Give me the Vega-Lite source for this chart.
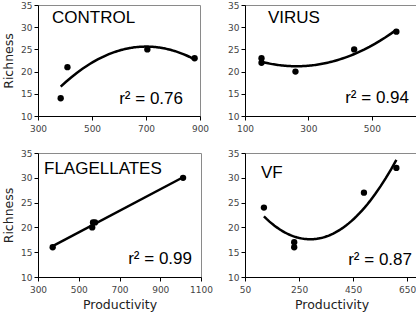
{
  "$schema": "https://vega.github.io/schema/vega-lite/v6.json",
  "padding": {"left": 2, "top": 0, "right": 2, "bottom": 2},
  "bounds": "flush",
  "columns": 2,
  "spacing": {"row": 37, "column": 44},
  "datasets": {
    "obs": [
      {"treatment": "CONTROL", "Productivity": 384, "Richness": 14},
      {"treatment": "CONTROL", "Productivity": 409, "Richness": 21},
      {"treatment": "CONTROL", "Productivity": 705, "Richness": 25},
      {"treatment": "CONTROL", "Productivity": 880, "Richness": 23},
      {"treatment": "VIRUS", "Productivity": 152, "Richness": 23},
      {"treatment": "VIRUS", "Productivity": 152, "Richness": 22},
      {"treatment": "VIRUS", "Productivity": 259, "Richness": 20},
      {"treatment": "VIRUS", "Productivity": 444, "Richness": 25},
      {"treatment": "VIRUS", "Productivity": 577, "Richness": 29},
      {"treatment": "FLAGELLATES", "Productivity": 372, "Richness": 16},
      {"treatment": "FLAGELLATES", "Productivity": 566, "Richness": 20},
      {"treatment": "FLAGELLATES", "Productivity": 570, "Richness": 21},
      {"treatment": "FLAGELLATES", "Productivity": 580, "Richness": 21},
      {"treatment": "FLAGELLATES", "Productivity": 1012, "Richness": 30},
      {"treatment": "VF", "Productivity": 120, "Richness": 24},
      {"treatment": "VF", "Productivity": 232, "Richness": 17},
      {"treatment": "VF", "Productivity": 232, "Richness": 16},
      {"treatment": "VF", "Productivity": 490, "Richness": 27},
      {"treatment": "VF", "Productivity": 610, "Richness": 32}
    ]
  },
  "concat": [
    {
      "width": 162, "height": 111,
      "encoding": {
        "x": {"field": "Productivity", "type": "quantitative", "scale": {"domain": [300, 900], "nice": false, "zero": false}, "axis": {"values": [300, 500, 700, 900], "title": null}},
        "y": {"field": "Richness", "type": "quantitative", "scale": {"domain": [10, 35], "nice": false, "zero": false}, "axis": {"values": [10, 15, 20, 25, 30, 35], "title": "Richness"}}
      },
      "layer": [
        {
          "data": {"name": "obs"},
          "transform": [{"filter": "datum.treatment == 'CONTROL'"}, {"regression": "Richness", "on": "Productivity", "method": "poly", "order": 2}],
          "mark": {"type": "line", "color": "black", "strokeWidth": 2.5}
        },
        {
          "data": {"name": "obs"},
          "transform": [{"filter": "datum.treatment == 'CONTROL'"}],
          "mark": {"type": "circle", "color": "black", "size": 40, "opacity": 1}
        },
        {
          "data": {"values": [{"t": "CONTROL"}]},
          "mark": {"type": "text", "font": "Liberation Sans", "fontSize": 17, "align": "left", "baseline": "alphabetic", "color": "black"},
          "encoding": {"text": {"field": "t"}, "x": {"value": 14}, "y": {"value": 18}}
        },
        {
          "data": {"values": [{"t": "r² = 0.76"}]},
          "mark": {"type": "text", "font": "Liberation Sans", "fontSize": 17, "align": "right", "baseline": "alphabetic", "color": "black"},
          "encoding": {"text": {"field": "t"}, "x": {"value": 145}, "y": {"value": 99}}
        }
      ]
    },
    {
      "width": 172, "height": 111,
      "encoding": {
        "x": {"field": "Productivity", "type": "quantitative", "scale": {"domain": [100, 642], "nice": false, "zero": false}, "axis": {"values": [100, 300, 500], "title": null}},
        "y": {"field": "Richness", "type": "quantitative", "scale": {"domain": [10, 35], "nice": false, "zero": false}, "axis": {"values": [10, 15, 20, 25, 30, 35], "title": null}}
      },
      "layer": [
        {
          "data": {"name": "obs"},
          "transform": [{"filter": "datum.treatment == 'VIRUS'"}, {"regression": "Richness", "on": "Productivity", "method": "poly", "order": 2}],
          "mark": {"type": "line", "color": "black", "strokeWidth": 2.5}
        },
        {
          "data": {"name": "obs"},
          "transform": [{"filter": "datum.treatment == 'VIRUS'"}],
          "mark": {"type": "circle", "color": "black", "size": 40, "opacity": 1}
        },
        {
          "data": {"values": [{"t": "VIRUS"}]},
          "mark": {"type": "text", "font": "Liberation Sans", "fontSize": 17, "align": "left", "baseline": "alphabetic", "color": "black"},
          "encoding": {"text": {"field": "t"}, "x": {"value": 23}, "y": {"value": 18}}
        },
        {
          "data": {"values": [{"t": "r² = 0.94"}]},
          "mark": {"type": "text", "font": "Liberation Sans", "fontSize": 17, "align": "right", "baseline": "alphabetic", "color": "black"},
          "encoding": {"text": {"field": "t"}, "x": {"value": 164}, "y": {"value": 98}}
        }
      ]
    },
    {
      "width": 163, "height": 124,
      "encoding": {
        "x": {"field": "Productivity", "type": "quantitative", "scale": {"domain": [300, 1100], "nice": false, "zero": false}, "axis": {"values": [300, 500, 700, 900, 1100], "format": "d", "title": "Productivity"}},
        "y": {"field": "Richness", "type": "quantitative", "scale": {"domain": [10, 35], "nice": false, "zero": false}, "axis": {"values": [10, 15, 20, 25, 30, 35], "title": "Richness"}}
      },
      "layer": [
        {
          "data": {"name": "obs"},
          "transform": [{"filter": "datum.treatment == 'FLAGELLATES'"}, {"regression": "Richness", "on": "Productivity", "method": "linear"}],
          "mark": {"type": "line", "color": "black", "strokeWidth": 2.5}
        },
        {
          "data": {"name": "obs"},
          "transform": [{"filter": "datum.treatment == 'FLAGELLATES'"}],
          "mark": {"type": "circle", "color": "black", "size": 40, "opacity": 1}
        },
        {
          "data": {"values": [{"t": "FLAGELLATES"}]},
          "mark": {"type": "text", "font": "Liberation Sans", "fontSize": 17, "align": "left", "baseline": "alphabetic", "color": "black"},
          "encoding": {"text": {"field": "t"}, "x": {"value": 6}, "y": {"value": 21}}
        },
        {
          "data": {"values": [{"t": "r² = 0.99"}]},
          "mark": {"type": "text", "font": "Liberation Sans", "fontSize": 17, "align": "right", "baseline": "alphabetic", "color": "black"},
          "encoding": {"text": {"field": "t"}, "x": {"value": 154}, "y": {"value": 111}}
        }
      ]
    },
    {
      "width": 173, "height": 124,
      "encoding": {
        "x": {"field": "Productivity", "type": "quantitative", "scale": {"domain": [50, 690], "nice": false, "zero": false}, "axis": {"values": [50, 250, 450, 650], "title": "Productivity"}},
        "y": {"field": "Richness", "type": "quantitative", "scale": {"domain": [10, 35], "nice": false, "zero": false}, "axis": {"values": [10, 15, 20, 25, 30, 35], "title": null}}
      },
      "layer": [
        {
          "data": {"name": "obs"},
          "transform": [{"filter": "datum.treatment == 'VF'"}, {"regression": "Richness", "on": "Productivity", "method": "poly", "order": 2}],
          "mark": {"type": "line", "color": "black", "strokeWidth": 2.5}
        },
        {
          "data": {"name": "obs"},
          "transform": [{"filter": "datum.treatment == 'VF'"}],
          "mark": {"type": "circle", "color": "black", "size": 40, "opacity": 1}
        },
        {
          "data": {"values": [{"t": "VF"}]},
          "mark": {"type": "text", "font": "Liberation Sans", "fontSize": 17, "align": "left", "baseline": "alphabetic", "color": "black"},
          "encoding": {"text": {"field": "t"}, "x": {"value": 16}, "y": {"value": 25}}
        },
        {
          "data": {"values": [{"t": "r² = 0.87"}]},
          "mark": {"type": "text", "font": "Liberation Sans", "fontSize": 17, "align": "right", "baseline": "alphabetic", "color": "black"},
          "encoding": {"text": {"field": "t"}, "x": {"value": 167}, "y": {"value": 112}}
        }
      ]
    }
  ],
  "config": {
    "view": {"stroke": "#8a8a8a", "strokeWidth": 1},
    "axis": {
      "grid": false,
      "domainColor": "black",
      "domainWidth": 1,
      "tickColor": "black",
      "tickSize": 4,
      "labelFont": "DejaVu Sans",
      "labelFontSize": 9,
      "labelColor": "#444444",
      "labelOverlap": false,
      "labelFlush": false,
      "labelBound": false,
      "titleFont": "DejaVu Sans",
      "titleFontSize": 12.5,
      "titleFontWeight": "normal",
      "titleColor": "#222222"
    },
    "axisX": {"labelPadding": 4, "titlePadding": 4},
    "axisY": {"labelPadding": 2, "titlePadding": 5}
  }
}
